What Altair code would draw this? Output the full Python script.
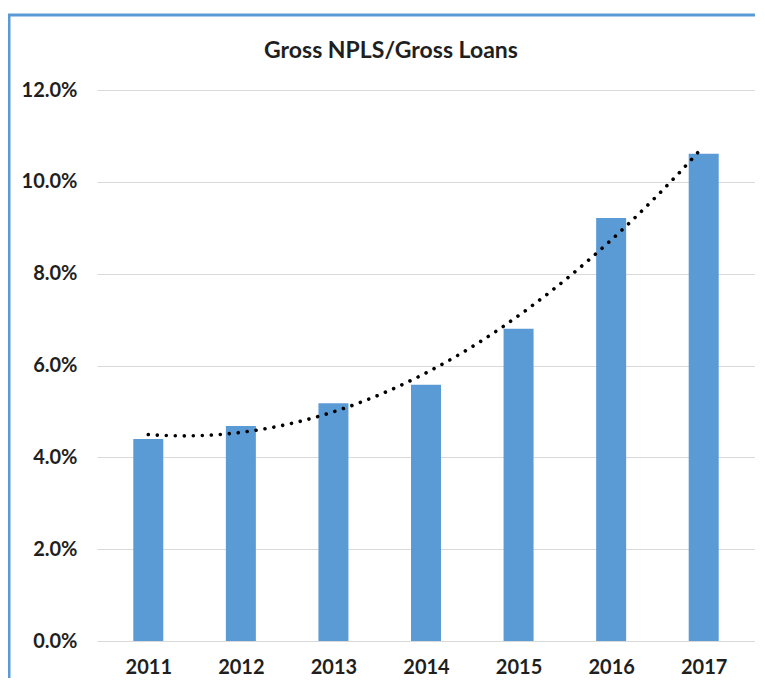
import altair as alt
import pandas as pd

title_text = "Gross NPLS/Gross Loans"
years = [2011, 2012, 2013, 2014, 2015, 2016, 2017]
ratios = [0.0440, 0.0468, 0.0518, 0.0558, 0.0680, 0.0921, 0.1061]
y_ticks = [0.0, 0.02, 0.04, 0.06, 0.08, 0.10, 0.12]

df = pd.DataFrame({"year": years, "ratio": ratios})

W, H = 658, 551
PAD_L, PAD_T = 89, 82

xscale = alt.Scale(domain=[2010.5, 2017.5], nice=False, zero=False)
yscale = alt.Scale(domain=[0, 0.12], nice=False)

x_axis = alt.Axis(values=years, format="d", title=None, grid=False, domain=False,
                  ticks=False, labelFont="Lato", labelFontSize=20, labelFontWeight="bold",
                  labelColor="#1f1f1f", labelPadding=16)
y_axis = alt.Axis(values=y_ticks, format=".1%", title=None, domain=False, ticks=False,
                  grid=True, gridColor="#d9d9d9", gridWidth=1,
                  labelFont="Lato", labelFontSize=20, labelFontWeight="bold",
                  labelColor="#1f1f1f", labelPadding=20)

base = alt.Chart(df)

bars = base.mark_bar(size=30, color="#5b9bd5").encode(
    x=alt.X("year:Q", scale=xscale, axis=x_axis),
    y=alt.Y("ratio:Q", scale=yscale, axis=y_axis),
)

trend = base.transform_regression(
    "year", "ratio", method="poly", order=2
).mark_line(color="black", strokeWidth=3.6, strokeDash=[0.01, 9], strokeCap="round").encode(
    x=alt.X("year:Q", scale=xscale),
    y=alt.Y("ratio:Q", scale=yscale),
)

dummy = alt.Chart(pd.DataFrame({"t": [title_text]}))
left_border = dummy.mark_rule(color="#5b9bd5", strokeWidth=3).encode(
    x=alt.value(-88), y=alt.value(-75), y2=alt.value(700)
)
top_border = dummy.mark_rule(color="#5b9bd5", strokeWidth=3).encode(
    x=alt.value(-89.5), x2=alt.value(700), y=alt.value(-75)
)
title = dummy.mark_text(font="Lato", fontSize=23, fontWeight="bold", color="#1f1f1f",
                        align="center", baseline="alphabetic").encode(
    text="t:N", x=alt.value(294), y=alt.value(-32)
)

chart = alt.layer(bars, trend, left_border, top_border, title).properties(
    width=W, height=H,
    autosize=alt.AutoSizeParams(type="none"),
    padding={"left": PAD_L, "top": PAD_T, "right": 0, "bottom": 37},
).configure_view(stroke=None)

chart.save("out.html", embed_options={"renderer": "svg", "actions": False})
